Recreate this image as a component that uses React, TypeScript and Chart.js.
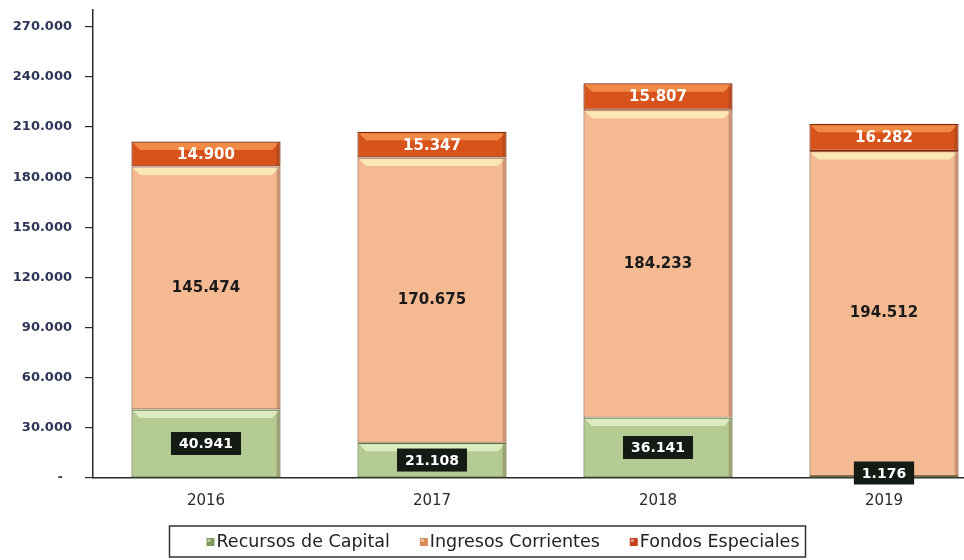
import React, { useEffect, useRef } from 'react';
import { Chart, registerables } from 'chart.js';

Chart.register(...registerables);

const years = ['2016', '2017', '2018', '2019'];
const recursosCapital = [40941, 21108, 36141, 1176];
const ingresosCorrientes = [145474, 170675, 184233, 194512];
const fondosEspeciales = [14900, 15347, 15807, 16282];
const yTickValues = [0, 30000, 60000, 90000, 120000, 150000, 180000, 210000, 240000, 270000];
const seriesNames = ['Recursos de Capital', 'Ingresos Corrientes', 'Fondos Especiales'];

const fills = ['#b4cc93', '#f5ba92', '#d8531c'];
const strokes = ['#5d7544', '#9c6040', '#7e2a0b'];
const highlights = ['#dcebc0', '#fbe6b6', '#f08a45'];
const markerColors = ['#7d9a5c', '#d98a55', '#c8401a'];

const fmt = (v: number) => String(Math.round(v)).replace(/\B(?=(\d{3})+(?!\d))/g, '.');

const FONT = '"DejaVu Sans", sans-serif';

const decorPlugin = {
  id: 'decor',
  afterDatasetsDraw(chart: any) {
    const ctx = chart.ctx;
    ctx.save();
    chart.data.datasets.forEach((_: any, di: number) => {
      const meta = chart.getDatasetMeta(di);
      meta.data.forEach((el: any) => {
        const { x, y, base, width } = el.getProps(['x', 'y', 'base', 'width'], true);
        const top = Math.min(y, base);
        const bottom = Math.max(y, base);
        const h = bottom - top;
        const left = x - width / 2;
        const right = x + width / 2;
        const band = Math.min(7, h * 0.3);
        if (band > 1.5) {
          ctx.fillStyle = highlights[di];
          ctx.beginPath();
          ctx.moveTo(left + 1.5, top + 1.5);
          ctx.lineTo(right - 1.5, top + 1.5);
          ctx.lineTo(right - 1.5 - band, top + 1.5 + band);
          ctx.lineTo(left + 1.5 + band, top + 1.5 + band);
          ctx.closePath();
          ctx.fill();
          ctx.fillStyle = 'rgba(90,40,20,0.25)';
          ctx.fillRect(right - 4, top + 1, 3, h - 2);
        }
      });
    });
    ctx.restore();
  },
  afterDraw(chart: any) {
    const ctx = chart.ctx;
    ctx.save();
    ctx.textAlign = 'center';
    ctx.textBaseline = 'middle';
    chart.data.datasets.forEach((ds: any, di: number) => {
      const meta = chart.getDatasetMeta(di);
      meta.data.forEach((el: any, i: number) => {
        const { x, y, base } = el.getProps(['x', 'y', 'base'], true);
        const cy = (y + base) / 2;
        const value = ds.data[i].y;
        const txt = fmt(value);
        if (di === 0) {
          ctx.font = `bold 14px ${FONT}`;
          const w = ctx.measureText(txt).width + 16;
          const h = 23;
          const by = Math.min(cy, chart.chartArea.bottom - 5);
          ctx.fillStyle = '#141a14';
          ctx.fillRect(x - w / 2, by - h / 2, w, h);
          ctx.fillStyle = '#ffffff';
          ctx.fillText(txt, x, by + 1);
        } else if (di === 1) {
          ctx.font = `bold 15px ${FONT}`;
          ctx.fillStyle = '#1a1a1a';
          ctx.fillText(txt, x, cy);
        } else {
          ctx.font = `bold 15px ${FONT}`;
          ctx.fillStyle = '#ffffff';
          ctx.fillText(txt, x, cy + 1);
        }
      });
    });

    // legend
    ctx.font = `17.5px ${FONT}`;
    const marker = 8;
    const gapMarker = 2;
    const gapItem = 30;
    const widths = seriesNames.map((n) => ctx.measureText(n).width);
    const total = widths.reduce((a, b) => a + b, 0) + seriesNames.length * (marker + gapMarker) + gapItem * (seriesNames.length - 1);
    const centerX = 503;
    const ly = 542;
    let cx = centerX - total / 2;
    const groupStart = cx;
    ctx.textAlign = 'left';
    seriesNames.forEach((n, k) => {
      ctx.fillStyle = markerColors[k];
      ctx.fillRect(cx, ly - marker / 2, marker, marker);
      ctx.fillStyle = 'rgba(255,255,255,0.45)';
      ctx.fillRect(cx + 1, ly - marker / 2 + 1, 3, 3);
      cx += marker + gapMarker;
      ctx.fillStyle = '#222';
      ctx.fillText(n, cx, ly);
      cx += widths[k] + gapItem;
    });
    const groupEnd = cx - gapItem;
    ctx.strokeStyle = '#333';
    ctx.lineWidth = 1.5;
    ctx.strokeRect(groupStart - 37, 526, groupEnd - groupStart + 37 + 6, 31);
    ctx.restore();
  },
};

export default function App() {
  const ref = useRef<HTMLCanvasElement>(null);
  useEffect(() => {
    const mk = (arr: number[]) => arr.map((v, i) => ({ x: i, y: v }));
    const chart = new Chart(ref.current as HTMLCanvasElement, {
      type: 'bar',
      data: {
        datasets: [
          { label: seriesNames[0], data: mk(recursosCapital), backgroundColor: fills[0], borderColor: strokes[0] },
          { label: seriesNames[1], data: mk(ingresosCorrientes), backgroundColor: fills[1], borderColor: strokes[1] },
          { label: seriesNames[2], data: mk(fondosEspeciales), backgroundColor: fills[2], borderColor: strokes[2] },
        ].map((d) => ({ ...d, stack: 's', borderWidth: 1.2, borderSkipped: false, categoryPercentage: 1, barPercentage: 0.66 })) as any,
      },
      options: {
        responsive: false,
        animation: false,
        devicePixelRatio: 1,
        layout: { padding: { top: 10, right: 0, bottom: 52, left: 0 } },
        plugins: { legend: { display: false }, tooltip: { enabled: false } },
        scales: {
          x: {
            type: 'linear',
            min: -0.5,
            max: 3.354,
            offset: false,
            afterBuildTicks: (s: any) => {
              s.ticks = years.map((_, i) => ({ value: i }));
            },
            afterFit: (s: any) => {
              s.height = 30;
              s.paddingLeft = 0;
              s.paddingRight = 0;
            },
            ticks: {
              callback: (v: any) => years[v] ?? '',
              font: { family: FONT, size: 15 },
              color: '#2a2a2a',
              padding: 14,
              maxRotation: 0,
              autoSkip: false,
            },
            grid: { display: false, drawTicks: false },
            border: { display: true, color: '#2a2a2a', width: 1.5 },
          },
          y: {
            stacked: true,
            min: 0,
            max: 280000,
            afterBuildTicks: (s: any) => {
              s.ticks = yTickValues.map((v) => ({ value: v }));
            },
            afterFit: (s: any) => {
              s.width = 93;
              s.paddingTop = 0;
              s.paddingBottom = 0;
            },
            ticks: {
              callback: (v: any) => (v === 0 ? '-  ' : fmt(v)),
              font: { family: FONT, size: 13, weight: 'bold' },
              color: '#2c3557',
              padding: 13,
            },
            grid: { drawOnChartArea: false, drawTicks: true, tickLength: 8, color: '#2a2a2a', lineWidth: 1.2 },
            border: { display: true, color: '#2a2a2a', width: 1.5 },
          },
        } as any,
      },
      plugins: [decorPlugin],
    } as any);
    return () => chart.destroy();
  }, []);
  return (
    <div style={{ position: 'fixed', left: 0, top: 0, width: 964, height: 560, background: '#ffffff' }}>
      <canvas ref={ref} width={964} height={560} style={{ display: 'block' }} />
    </div>
  );
}
